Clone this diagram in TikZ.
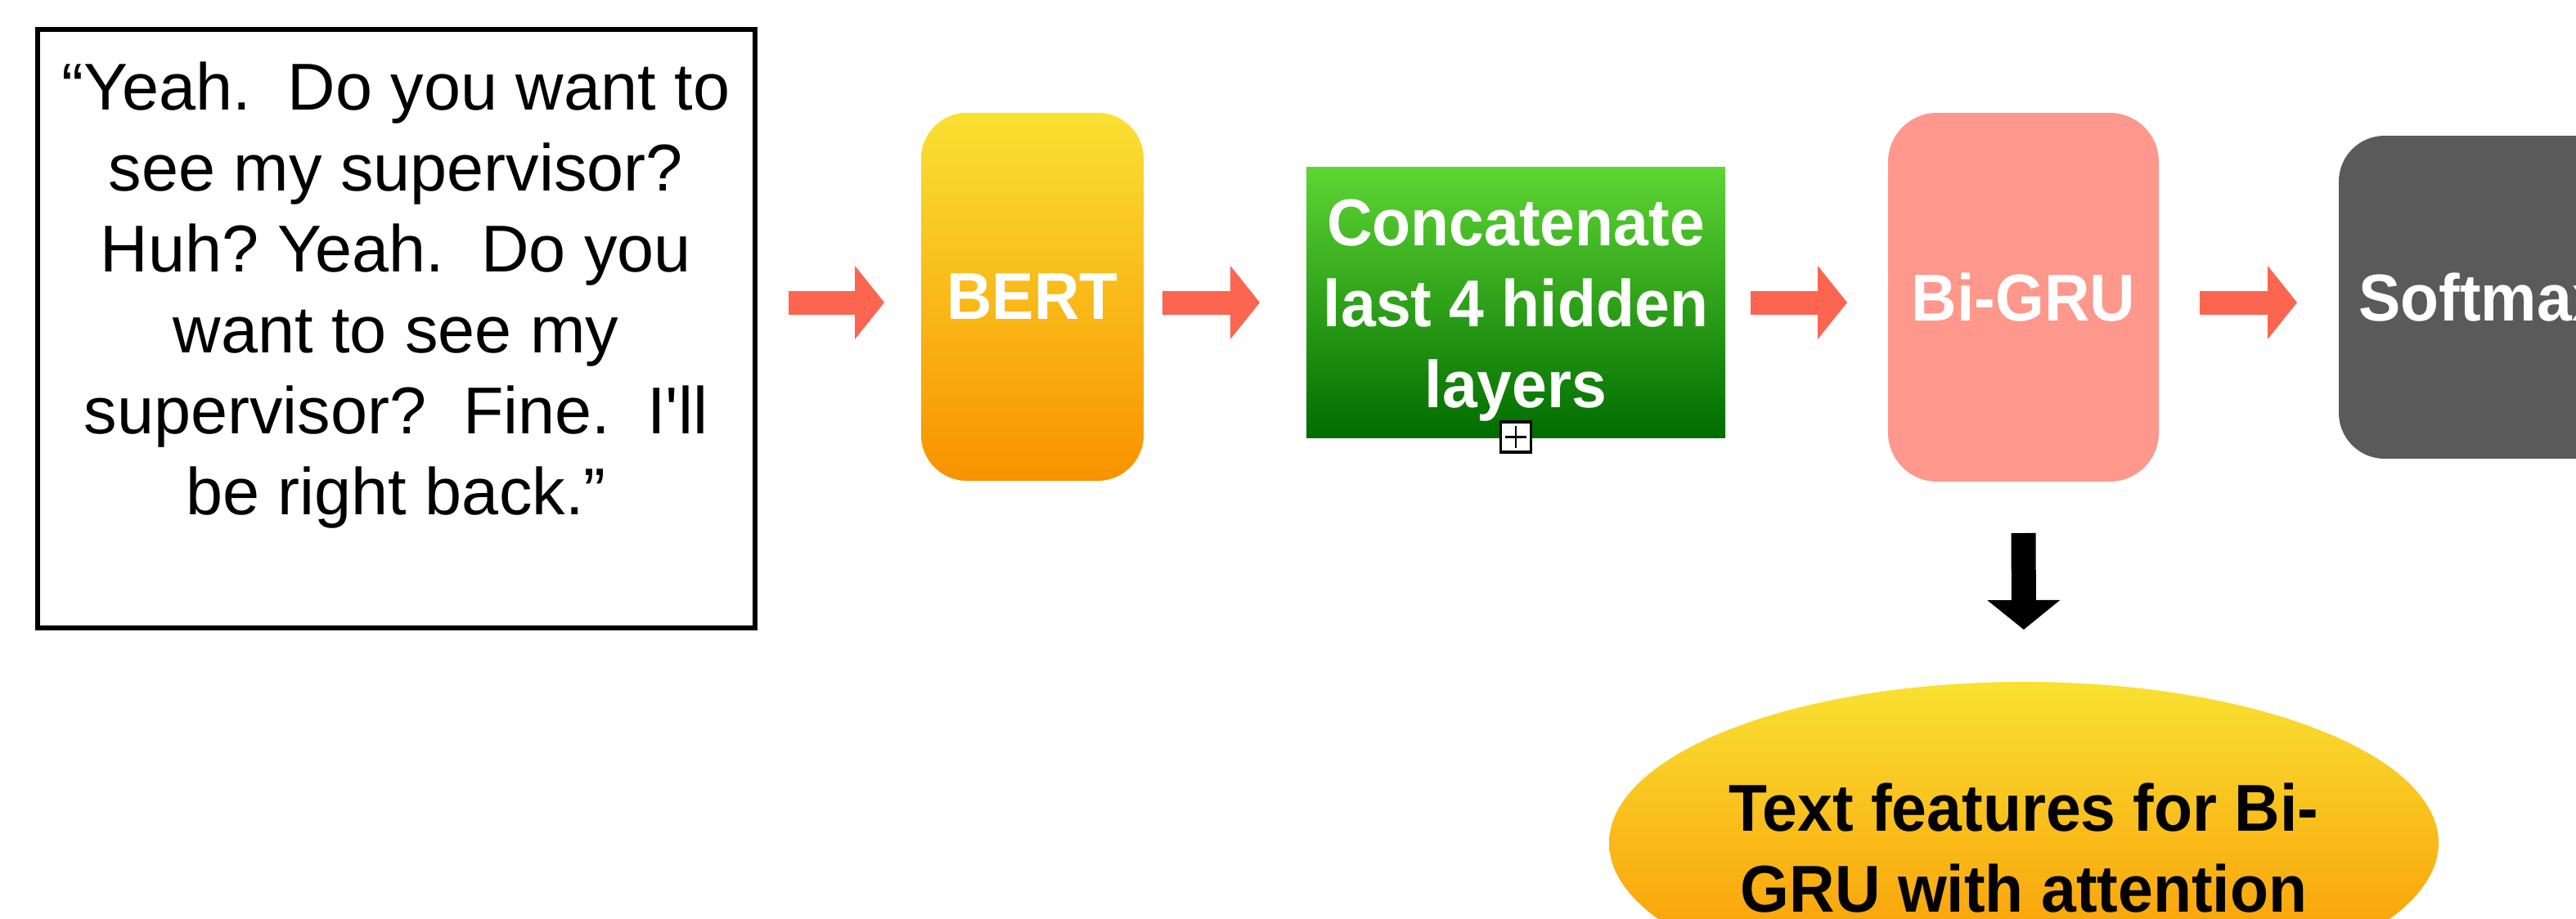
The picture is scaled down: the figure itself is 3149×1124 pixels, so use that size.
\documentclass[tikz,border=0pt]{standalone}
\usepackage{fontspec}
\setmainfont{Liberation Sans}[Ligatures=TeXOff,BoldFeatures={FakeStretch=0.95}]
\usetikzlibrary{arrows.meta,shapes.geometric,calc}

\definecolor{arrowred}{HTML}{FC6650}
\definecolor{warmtop}{HTML}{F9E132}
\definecolor{warmbot}{HTML}{F99200}
\definecolor{greentop}{HTML}{5ED634}
\definecolor{greenbot}{HTML}{006C00}
\definecolor{gruPink}{HTML}{FE978C}
\definecolor{softGray}{HTML}{5A5A5A}

\begin{document}
\frenchspacing
\begin{tikzpicture}[x=0.25pt,y=-0.25pt,
  every node/.style={inner sep=0pt,outer sep=0pt},
  plain/.style={font=\fontsize{20.25pt}{24.75pt}\selectfont,align=center},
  strong/.style={font=\fontsize{20.25pt}{24.75pt}\selectfont\bfseries,align=center},
  block/.style={rounded corners=14pt,minimum width=#1},
  flow/.style={line width=7.25pt,color=arrowred,
    -{Triangle[length=9pt,width=22.5pt,line width=0pt]}},
  downflow/.style={line width=7.5pt,color=black,
    -{Triangle[length=9pt,width=22.25pt,line width=0pt]}},
]
\useasboundingbox (0,0) rectangle (3149,1124);
\clip (0,0) rectangle (3149,1124);
\fill[white] (0,0) rectangle (3149,1124);

% input utterance
\node[draw=black,line width=1.5pt,minimum width=219.25pt,minimum height=183pt]
  (quote) at (484.5,402) {};
\node[plain,anchor=north] (quotetext) at (484,76)
  {“Yeah.\ \ Do you want to\\ see my supervisor?\\ Huh? Yeah.\ \ Do you\\
   want to see my\\ supervisor?\ \ Fine.\ \ I'll\\ be right back.”};

% processing stages
\node[block=68pt,minimum height=112.5pt,top color=warmtop,bottom color=warmbot,
  strong,text=white] (bert) at (1262,363) {BERT};
\node[minimum width=128pt,minimum height=82.75pt,top color=greentop,
  bottom color=greenbot] (concat) at (1853,369.5) {};
\node[strong,text=white] (concattext) at ([yshift=-2.5pt]concat.center)
  {Concatenate\\ last 4 hidden\\ layers};
\node[block=82.75pt,minimum height=112.75pt,fill=gruPink,strong,text=white,
  rounded corners=15pt] (bigru) at (2473.5,363.5) {Bi-GRU};
\node[block=88pt,minimum height=98.75pt,fill=softGray,strong,text=white]
  (softmax) at (3035,363.5) {Softmax};

% output features
\node[ellipse,minimum width=253.5pt,minimum height=98.5pt,top color=warmtop,
  bottom color=warmbot] (feat) at (2474,1031) {};
\node[strong,text=black] (feattext) at ([yshift=-1.5pt]feat.center)
  {Text features for Bi-\\ GRU with attention};

% expander marker on the concatenation box
\node[draw=black,line width=0.8pt,fill=white,minimum size=9.25pt,
  path picture={
    \draw[line width=0.55pt] ([xshift=-3.3pt]path picture bounding box.center)
      -- ([xshift=3.3pt]path picture bounding box.center);
    \draw[line width=0.55pt] ([yshift=-3.3pt]path picture bounding box.center)
      -- ([yshift=3.3pt]path picture bounding box.center);
  }] (expander) at (1853,534.5) {};

% connectors
\coordinate (row) at (0,370);
\draw[flow,shorten <=10.25pt,shorten >=11.25pt] (quote.east |- row) -- (bert.west |- row);
\draw[flow,shorten <=5.75pt,shorten >=14.25pt] (bert.east |- row) -- (concat.west |- row);
\draw[flow,shorten <=7.75pt,shorten >=12.5pt] (concat.east |- row) -- (bigru.west |- row);
\draw[flow,shorten <=12.5pt,shorten >=12.75pt] (bigru.east |- row) -- (softmax.west |- row);
\draw[downflow,shorten <=15.75pt,shorten >=16pt] (bigru.south) -- (feat.north);
\end{tikzpicture}
\end{document}
